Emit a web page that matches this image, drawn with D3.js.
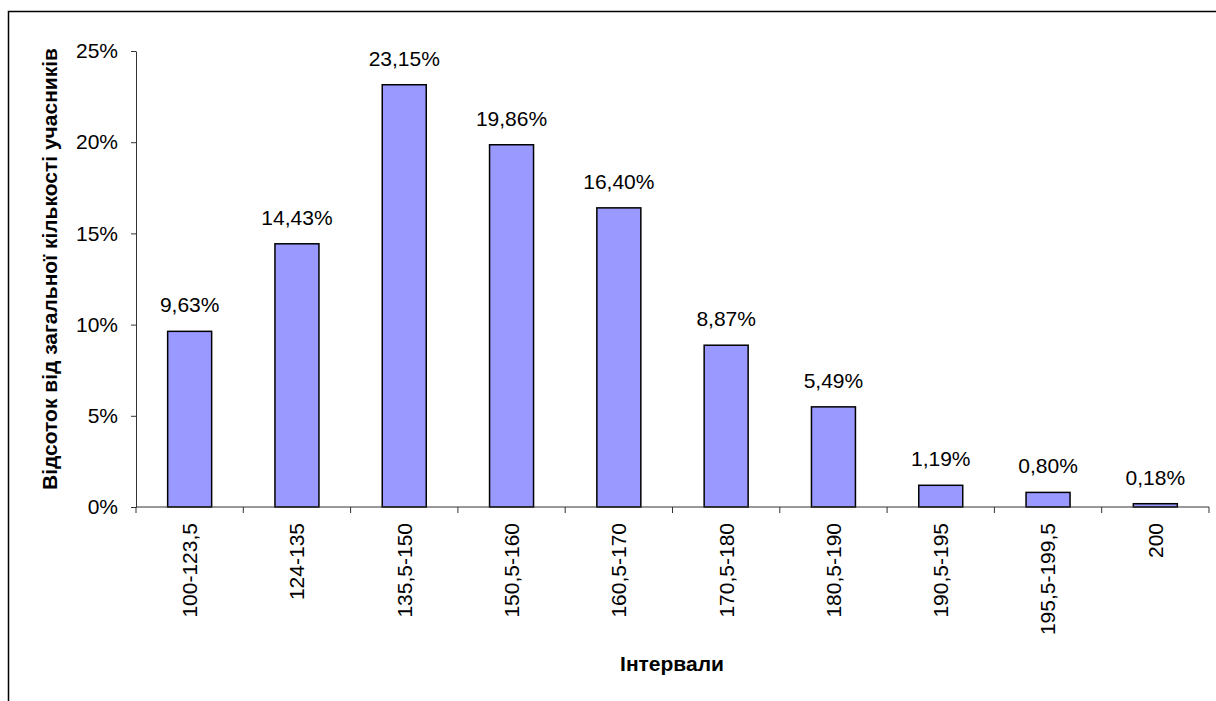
<!DOCTYPE html>
<html><head><meta charset="utf-8">
<script src="https://cdn.jsdelivr.net/npm/d3@7"></script>
<style>body{margin:0;background:#fff}svg{display:block}text{font-family:"Liberation Sans",Arial,sans-serif}</style>
</head><body><div id="c"></div>
<script>
const categories = ["100-123,5","124-135","135,5-150","150,5-160","160,5-170","170,5-180","180,5-190","190,5-195","195,5-199,5","200"];
const values = [9.63,14.43,23.15,19.86,16.40,8.87,5.49,1.19,0.80,0.18];
const valueLabels = ["9,63%","14,43%","23,15%","19,86%","16,40%","8,87%","5,49%","1,19%","0,80%","0,18%"];
const yTicks = [0,5,10,15,20,25];
const yTickLabels = ["0%","5%","10%","15%","20%","25%"];

const FS=21;
const W=1216,H=701;
const svg=d3.select("#c").append("svg").attr("width",W).attr("height",H);
svg.append("rect").attr("x",8.5).attr("y",11.5).attr("width",1240).attr("height",720).attr("fill","none").attr("stroke","#000").attr("stroke-width",1.5);

const x=d3.scaleBand().domain(categories).range([136,1209]).paddingInner(0.59).paddingOuter(0.295);
const y=d3.scaleLinear().domain([0,25]).range([507,51]);

// bars
svg.selectAll("rect.bar").data(values).join("rect").attr("class","bar")
 .attr("x",(d,i)=>x(categories[i])).attr("width",x.bandwidth())
 .attr("y",d=>y(d)).attr("height",d=>y(0)-y(d))
 .attr("fill","#9999FF").attr("stroke","#000").attr("stroke-width",1.5);

// value labels
svg.selectAll("text.vl").data(values).join("text").attr("class","vl")
 .attr("x",(d,i)=>x(categories[i])+x.bandwidth()/2).attr("y",d=>y(d)-19)
 .attr("text-anchor","middle").attr("font-size",FS).attr("fill","#000")
 .text((d,i)=>valueLabels[i]);

// y axis
const ya=svg.append("g").attr("transform","translate(136,0)")
 .call(d3.axisLeft(y).tickValues(yTicks).tickFormat((d,i)=>yTickLabels[i]).tickSize(5).tickSizeOuter(0).tickPadding(13));
ya.selectAll("text").attr("font-size",FS).attr("fill","#000").style("font-family","Liberation Sans, Arial, sans-serif");
ya.selectAll("line,path").attr("stroke","#333");

// x axis
const xa=svg.append("g").attr("transform","translate(0,507)")
 .call(d3.axisBottom(x).tickSize(0).tickPadding(0));
xa.select("path").remove();
xa.selectAll("text").attr("font-size",FS).attr("fill","#000").style("font-family","Liberation Sans, Arial, sans-serif")
 .attr("transform","rotate(-90)").attr("text-anchor","end").attr("x",-16).attr("y",0).attr("dy","0.35em");
svg.append("line").attr("x1",136).attr("x2",1209).attr("y1",507).attr("y2",507).attr("stroke","#333");
const step=x.step();
svg.selectAll("line.xt").data(d3.range(categories.length+1)).join("line").attr("class","xt")
 .attr("x1",d=>x.range()[0]+d*step).attr("x2",d=>x.range()[0]+d*step)
 .attr("y1",507).attr("y2",513).attr("stroke","#333");

// titles
svg.append("text").attr("x",672).attr("y",671).attr("text-anchor","middle").attr("font-size",FS).attr("font-weight","bold").text("Інтервали");
svg.append("text").attr("transform","translate(57,269) rotate(-90)").attr("text-anchor","middle").attr("font-size",FS).attr("font-weight","bold").text("Відсоток від загальної кількості учасників");
</script></body></html>
